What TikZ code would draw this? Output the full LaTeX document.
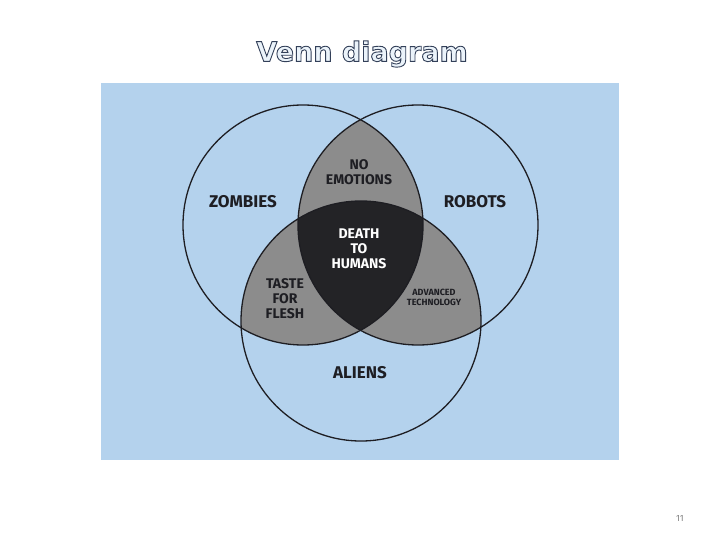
\documentclass[tikz,border=0pt]{standalone}
\usepackage{fontspec}
\setmainfont{Fira Sans}
\newfontfamily\titlefont{DejaVu Sans}
\definecolor{bgblue}{RGB}{180,210,237}
\definecolor{midgray}{RGB}{140,140,140}
\definecolor{darkreg}{RGB}{35,35,38}
\definecolor{txt}{RGB}{30,30,35}
\definecolor{titlefill}{RGB}{235,243,250}
\tikzset{lbl/.style={font=\bfseries\fontsize{17}{17}\selectfont, text=txt, align=center},
 sml/.style={font=\bfseries\fontsize{14}{15}\selectfont, text=txt, align=center},
 tiny/.style={font=\bfseries\fontsize{9}{10}\selectfont, text=txt, align=center},
 ring/.style={draw=txt, line width=1.3pt}}
\begin{document}
\begin{tikzpicture}[x=1pt,y=-1pt]
\useasboundingbox (0,0) rectangle (720,540);
\fill[white] (0,0) rectangle (720,540);
\fill[bgblue] (101,83) rectangle (619,460);
\coordinate (z) at (303,225);
\coordinate (r) at (418,225);
\coordinate (a) at (361,321);
\begin{scope}\clip (z) circle (120); \fill[midgray] (r) circle (120); \end{scope}
\begin{scope}\clip (z) circle (120); \fill[midgray] (a) circle (120); \end{scope}
\begin{scope}\clip (r) circle (120); \fill[midgray] (a) circle (120); \end{scope}
\begin{scope}\clip (z) circle (120); \clip (r) circle (120); \fill[darkreg] (a) circle (120); \end{scope}
\draw[ring] (z) circle (120);
\draw[ring] (r) circle (120);
\draw[ring] (a) circle (120);
\node[lbl] (zl) at (243,202) {ZOMBIES};
\node[lbl] (rl) at (475,202) {ROBOTS};
\node[lbl] (al) at (360,373) {ALIENS};
\node[sml] (ne) at (359,172) {NO\\EMOTIONS};
\node[sml, text=white] (dh) at (359,249) {DEATH\\TO\\HUMANS};
\node[sml] (tf) at (285,299) {TASTE\\FOR\\FLESH};
\node[tiny] (at) at (434,297) {ADVANCED\\TECHNOLOGY};
\node (tt) at (362,54) {\titlefont\bfseries\fontsize{27}{27}\selectfont\color{titlefill}\special{pdf:literal direct 2 Tr 0.9 w 0.2 0.25 0.35 RG}Venn diagram\special{pdf:literal direct 0 Tr}};
\node[text=gray, font=\fontsize{9}{9}\selectfont] (pg) at (680,518) {11};
\end{tikzpicture}
\end{document}
